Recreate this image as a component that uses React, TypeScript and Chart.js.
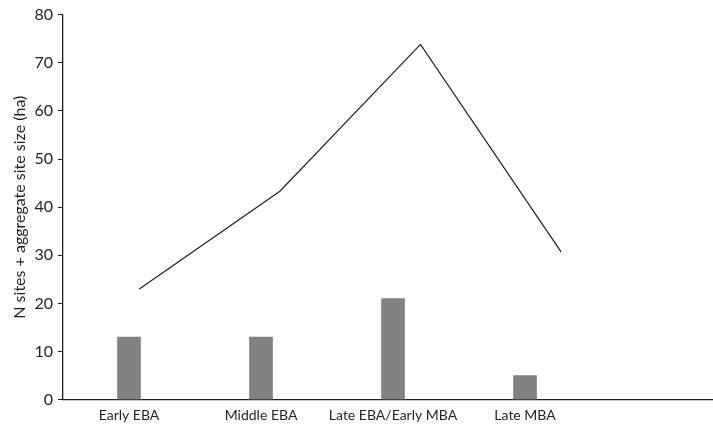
import React, { useEffect, useRef } from "react";
import { Chart, registerables } from "chart.js";

Chart.register(...registerables);

const categories = ["Early EBA", "Middle EBA", "Late EBA/Early MBA", "Late MBA"];
const siteCounts = [13, 13, 21, 5];
const aggregateSize = [23, 43.3, 73.8, 30.7];
const yTicks = [0, 10, 20, 30, 40, 50, 60, 70, 80];

const INK = "#231f20";
const BAR = "#808285";
const FONT = "Lato";

export default function App() {
  const ref = useRef<HTMLCanvasElement | null>(null);

  useEffect(() => {
    document.body.style.margin = "0";
    const canvas = ref.current;
    if (!canvas) return;
    const chart = new Chart(canvas, {
      type: "bar",
      data: {
        datasets: [
          {
            type: "bar",
            data: siteCounts.map((v, i) => ({ x: i, y: v })),
            xAxisID: "x",
            yAxisID: "y",
            backgroundColor: BAR,
            borderWidth: 0,
            barThickness: 23,
            grouped: false,
            order: 2,
          } as any,
          {
            type: "line",
            data: aggregateSize.map((v, i) => ({ x: i, y: v })),
            xAxisID: "x2",
            yAxisID: "y",
            borderColor: INK,
            borderWidth: 1.2,
            pointRadius: 0,
            tension: 0,
            fill: false,
            order: 1,
          } as any,
        ],
      },
      options: {
        responsive: false,
        animation: false,
        layout: { padding: { top: 14, right: 0, bottom: 0, left: 0 } },
        plugins: { legend: { display: false }, tooltip: { enabled: false } },
        scales: {
          x: {
            type: "linear",
            offset: false,
            min: -0.5,
            max: 4.424,
            afterFit: (s: any) => {
              s.height = 25.3;
              s.paddingLeft = 0;
              s.paddingRight = 0;
            },
            grid: { display: true, offset: false, drawOnChartArea: false, drawTicks: false },
            border: { display: true, color: INK, width: 1.3 },
            ticks: {
              stepSize: 1,
              autoSkip: false,
              maxRotation: 0,
              padding: 7,
              color: INK,
              font: { family: FONT, size: 14 },
              callback: (value: any) => {
                const v = Number(value);
                return Number.isInteger(v) && v >= 0 && v < categories.length ? categories[v] : "";
              },
            },
          },
          x2: {
            type: "linear",
            display: false,
            offset: false,
            grid: { offset: false },
            min: -0.543,
            max: 4.081,
          },
          y: {
            type: "linear",
            min: yTicks[0],
            max: yTicks[yTicks.length - 1],
            afterFit: (s: any) => {
              s.width = 63;
            },
            grid: { display: true, drawOnChartArea: false, drawTicks: true, tickLength: 5, color: INK, lineWidth: 1 },
            border: { display: true, color: INK, width: 1.3 },
            ticks: {
              stepSize: 10,
              padding: 5,
              color: INK,
              font: { family: FONT, size: 16 },
            },
            title: {
              display: true,
              text: "N sites + aggregate site size (ha)",
              color: INK,
              font: { family: FONT, size: 16 },
              padding: { top: 10.5, bottom: 0 },
            },
          },
        },
      },
    });
    return () => chart.destroy();
  }, []);

  return (
    <div style={{ width: 713, height: 425 }}>
      <canvas ref={ref} width={713} height={425} />
    </div>
  );
}
